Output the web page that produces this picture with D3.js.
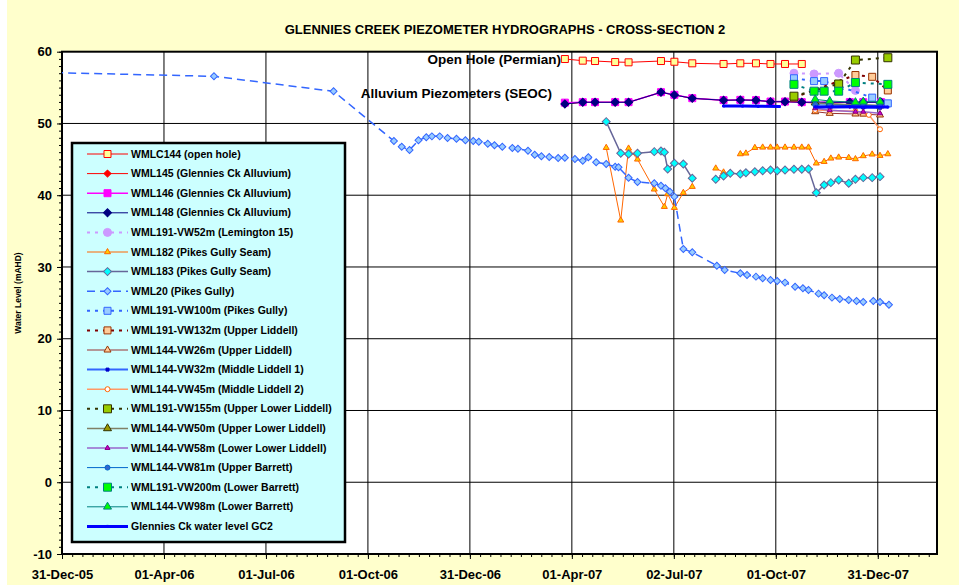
<!DOCTYPE html>
<html><head><meta charset="utf-8">
<script src="https://cdn.jsdelivr.net/npm/d3@7"></script>
<style>
html,body{margin:0;padding:0;background:#fff;}
svg{display:block;font-family:"Liberation Sans",Arial,sans-serif;}
</style></head>
<body>
<svg id="chart" width="959" height="585"></svg>
<script>
// ---------------- DATA ----------------
const xTickLabels = ["31-Dec-05","01-Apr-06","01-Jul-06","01-Oct-06","31-Dec-06","01-Apr-07","02-Jul-07","01-Oct-07","31-Dec-07"];
const yTicks = [-10,0,10,20,30,40,50,60];

const WMLC144 = [["2007-03-26",58.98],["2007-04-11",58.75],["2007-04-22",58.70],["2007-05-10",58.56],["2007-05-22",58.52],["2007-06-20",58.70],["2007-07-02",58.60],["2007-07-18",58.38],["2007-08-15",58.29],["2007-08-30",58.38],["2007-09-13",58.38],["2007-09-26",58.29],["2007-10-09",58.29],["2007-10-24",58.29]];
const WML145 = [["2007-03-26",52.71],["2007-04-11",52.95],["2007-04-22",52.95],["2007-05-10",52.95],["2007-05-22",52.95],["2007-06-20",54.34],["2007-07-02",53.97],["2007-07-18",53.50],["2007-08-15",53.23],["2007-08-30",53.27],["2007-09-13",53.23],["2007-09-26",53.03],["2007-10-09",53.03],["2007-10-24",52.95],["2007-12-06",52.6],["2007-12-18",52.5],["2008-01-03",52.5]];
const WML146 = [["2007-03-26",52.90],["2007-04-11",52.97],["2007-04-22",52.97],["2007-05-10",52.97],["2007-05-22",52.97],["2007-06-20",54.36],["2007-07-02",53.99],["2007-07-18",53.52],["2007-08-15",53.25],["2007-08-30",53.29],["2007-09-13",53.25],["2007-09-26",53.05],["2007-10-09",53.05],["2007-10-24",52.97],["2007-12-06",52.97],["2007-12-18",52.97],["2008-01-03",52.97]];
const WML148 = [["2007-03-26",52.71],["2007-04-11",52.95],["2007-04-22",52.95],["2007-05-10",52.95],["2007-05-22",52.95],["2007-06-20",54.34],["2007-07-02",53.97],["2007-07-18",53.50],["2007-08-15",53.23],["2007-08-30",53.27],["2007-09-13",53.23],["2007-09-26",53.03],["2007-10-09",53.03],["2007-10-24",52.95],["2007-12-06",52.95],["2007-12-18",52.95],["2008-01-03",52.95]];
const VW52m = [["2007-10-17",57.0],["2007-11-04",56.9],["2007-11-26",57.0],["2007-12-11",54.6]];
const WML182 = [["2007-05-02",46.62],["2007-05-15",36.5],["2007-05-22",46.53],["2007-05-30",45.0],["2007-06-14",40.82],["2007-06-23",38.4],["2007-06-26",40.17],["2007-07-02",38.26],["2007-07-10",40.35],["2007-07-18",41.19],["2007-07-28",null],["2007-08-08",43.75],["2007-08-15",43.2],["2007-08-22",null],["2007-08-30",45.74],["2007-09-04",45.84],["2007-09-12",46.62],["2007-09-19",46.67],["2007-09-26",46.67],["2007-10-02",46.67],["2007-10-09",46.67],["2007-10-17",46.67],["2007-10-24",46.67],["2007-10-30",46.67],["2007-11-06",44.45],["2007-11-13",44.67],["2007-11-19",45.14],["2007-11-26",45.28],["2007-12-05",45.23],["2007-12-11",45.05],["2007-12-18",45.47],["2007-12-26",45.70],["2008-01-02",45.51],["2008-01-09",45.74]];
const WML183 = [["2007-05-02",50.25],["2007-05-15",45.84],["2007-05-22",45.74],["2007-05-30",45.84],["2007-06-14",46.07],["2007-06-20",46.16],["2007-06-23",45.98],["2007-06-26",43.65],["2007-07-02",44.45],["2007-07-10",44.35],["2007-07-18",42.36],["2007-07-28",null],["2007-08-08",42.22],["2007-08-15",42.68],["2007-08-21",43.05],["2007-08-30",42.96],["2007-09-04",43.14],["2007-09-12",43.28],["2007-09-19",43.42],["2007-09-26",43.51],["2007-10-02",43.42],["2007-10-09",43.51],["2007-10-17",43.61],["2007-10-24",43.61],["2007-10-30",43.65],["2007-11-06",40.35],["2007-11-13",41.42],["2007-11-19",41.75],["2007-11-26",42.12],["2007-12-05",41.66],["2007-12-11",42.22],["2007-12-18",42.45],["2007-12-26",42.45],["2008-01-02",42.59]];
const WML20 = [["2005-11-20",57.2],["2006-05-16",56.57],["2006-08-31",54.48],["2006-10-24",47.56],["2006-10-31",46.76],["2006-11-07",46.3],["2006-11-15",47.65],["2006-11-22",48.07],["2006-11-27",48.2],["2006-12-04",48.2],["2006-12-11",47.97],["2006-12-19",47.88],["2006-12-27",47.65],["2007-01-03",47.56],["2007-01-08",47.46],["2007-01-16",47.18],["2007-01-22",46.96],["2007-01-29",46.76],["2007-02-07",46.58],["2007-02-12",46.48],["2007-02-21",46.2],["2007-02-27",45.65],["2007-03-05",45.42],["2007-03-12",45.33],["2007-03-20",45.19],["2007-03-26",45.23],["2007-04-04",45.05],["2007-04-11",44.8],["2007-04-16",45.3],["2007-04-23",44.59],["2007-05-02",44.35],["2007-05-10",43.97],["2007-05-13",43.9],["2007-05-22",42.44],["2007-05-30",41.84],["2007-06-14",41.66],["2007-06-20",41.33],["2007-06-24",40.96],["2007-06-28",40.49],["2007-07-02",39.8],["2007-07-10",32.5],["2007-07-18",32.05],["2007-08-09",30.18],["2007-08-16",29.58],["2007-08-30",29.12],["2007-09-05",28.88],["2007-09-13",28.65],["2007-09-19",28.42],["2007-09-26",28.19],["2007-10-02",28.05],["2007-10-09",27.82],["2007-10-18",27.25],["2007-10-25",27.03],["2007-10-30",26.8],["2007-11-08",26.28],["2007-11-13",26.05],["2007-11-20",25.73],["2007-11-27",25.54],["2007-12-05",25.40],["2007-12-12",25.26],["2007-12-18",25.12],["2007-12-27",25.26],["2008-01-02",25.12],["2008-01-10",24.74]];
const VW100m = [["2007-10-17",56.3],["2007-11-04",55.9],["2007-11-13",55.9],["2007-12-26",53.6],["2008-01-09",52.8]];
const VW132m = [["2007-10-17",53.6],["2007-12-11",56.75],["2007-12-26",56.5],["2008-01-09",54.6]];
const VW26m = [["2007-11-05",51.64],["2007-11-18",51.41],["2007-12-11",51.32],["2007-12-18",51.30],["2008-01-02",51.18]];
const VW32m = [["2007-11-05",52.30],["2007-11-18",52.28],["2007-12-11",52.25],["2007-12-18",52.22],["2008-01-02",52.20]];
const VW45m = [["2007-11-05",51.87],["2007-11-18",51.80],["2007-12-11",51.70],["2007-12-23",51.20],["2008-01-02",49.19]];
const VW155m = [["2007-10-17",53.8],["2007-11-26",55.5],["2007-12-11",58.84],["2008-01-09",59.16]];
const VW50m = [["2007-11-05",52.9],["2007-11-18",52.7],["2007-12-11",52.6],["2007-12-18",52.6],["2008-01-02",52.5]];
const VW58m = [["2007-11-05",52.11],["2007-11-18",51.85],["2007-12-11",51.64],["2007-12-18",51.64],["2008-01-02",51.41]];
const VW81m = [["2007-11-05",52.6],["2007-11-18",52.55],["2007-12-11",52.5],["2007-12-18",52.5],["2008-01-02",52.45]];
const VW200m = [["2007-10-17",55.45],["2007-11-04",54.5],["2007-11-13",54.5],["2007-11-26",54.5],["2007-12-11",55.7],["2008-01-09",55.45]];
const VW98m = [["2007-11-05",53.36],["2007-11-18",53.13],["2007-12-11",52.95],["2007-12-18",53.03],["2008-01-02",53.03]];
const GC2 = [["2007-08-15",52.43],["2007-09-01",52.42],["2007-09-15",52.40],["2007-10-04",52.36],["2007-10-20",null],["2007-11-05",52.30],["2007-11-20",52.30],["2007-12-06",52.32],["2007-12-20",52.30],["2008-01-09",52.28]];

// ---------------- SERIES STYLE TABLE ----------------
const DOT = "3,5";
const series = [
 {name:"WMLC144 (open hole)", data:WMLC144, color:"#FF0000", w:1, dash:null, shape:"square", size:7, fill:"#FFFF99", stroke:"#FF0000"},
 {name:"WML145 (Glennies Ck Alluvium)", data:WML145, color:"#FF0000", w:1, dash:null, shape:"diamond", size:7, fill:"#FF0000", stroke:"#FF0000"},
 {name:"WML146 (Glennies Ck Alluvium)", data:WML146, color:"#FF00FF", w:1.5, dash:null, shape:"square", size:7, fill:"#FF00FF", stroke:"#FF00FF"},
 {name:"WML148 (Glennies Ck Alluvium)", data:WML148, color:"#000080", w:1, dash:null, shape:"diamond", size:8, fill:"#000080", stroke:"#000080"},
 {name:"WML191-VW52m (Lemington 15)", data:VW52m, color:"#CC99FF", w:2, dash:DOT, shape:"circle", size:8, fill:"#CC99FF", stroke:"#CC99FF"},
 {name:"WML182 (Pikes Gully Seam)", data:WML182, color:"#FF6600", w:1, dash:null, shape:"triangle", size:6, fill:"#FFCC00", stroke:"#FF6600"},
 {name:"WML183 (Pikes Gully Seam)", data:WML183, color:"#666699", w:1.5, dash:null, shape:"diamond", size:8, fill:"#00FFFF", stroke:"#666699"},
 {name:"WML20 (Pikes Gully)", data:WML20, color:"#3366FF", w:1.5, dash:"8,5", shape:"diamond", size:7, fill:"#99CCFF", stroke:"#3366FF"},
 {name:"WML191-VW100m (Pikes Gully)", data:VW100m, color:"#3366FF", w:2, dash:DOT, shape:"square", size:7, fill:"#99CCFF", stroke:"#3366FF"},
 {name:"WML191-VW132m (Upper Liddell)", data:VW132m, color:"#800000", w:2, dash:DOT, shape:"square", size:7, fill:"#FFCC99", stroke:"#993300"},
 {name:"WML144-VW26m (Upper Liddell)", data:VW26m, color:"#993333", w:1, dash:null, shape:"triangle", size:7, fill:"#FFCC99", stroke:"#993300"},
 {name:"WML144-VW32m (Middle Liddell 1)", data:VW32m, color:"#3366FF", w:2, dash:null, shape:"square", size:3, fill:"#0000CC", stroke:"#0000CC"},
 {name:"WML144-VW45m (Middle Liddell 2)", data:VW45m, color:"#FF9966", w:1.5, dash:null, shape:"circle", size:5, fill:"#FFFFFF", stroke:"#FF6600"},
 {name:"WML191-VW155m (Upper Lower Liddell)", data:VW155m, color:"#333300", w:2, dash:DOT, shape:"square", size:8, fill:"#99CC00", stroke:"#333300"},
 {name:"WML144-VW50m (Upper Lower Liddell)", data:VW50m, color:"#808066", w:1.5, dash:null, shape:"triangle", size:8, fill:"#999900", stroke:"#333300"},
 {name:"WML144-VW58m (Lower Lower Liddell)", data:VW58m, color:"#9966CC", w:1.5, dash:null, shape:"triangle", size:5, fill:"#CC00CC", stroke:"#800080"},
 {name:"WML144-VW81m (Upper Barrett)", data:VW81m, color:"#0066CC", w:1, dash:null, shape:"circle", size:5, fill:"#3366CC", stroke:"#0066CC"},
 {name:"WML191-VW200m (Lower Barrett)", data:VW200m, color:"#008080", w:2, dash:DOT, shape:"square", size:8, fill:"#00FF00", stroke:"#008080"},
 {name:"WML144-VW98m (Lower Barrett)", data:VW98m, color:"#008080", w:1, dash:null, shape:"triangle", size:8, fill:"#00FF00", stroke:"#008080"},
 {name:"Glennies Ck water level GC2", data:GC2, color:"#0000FF", w:3, dash:null, shape:"square", size:2, fill:"#0000FF", stroke:"#0000FF"}
];

// ---------------- LAYOUT ----------------
const W = 959, H = 585;
const plot = {left:62, right:937, top:51.7, bottom:554};
const parse = d3.timeParse("%Y-%m-%d");
const xMin = parse("2005-12-31"), xMax = parse("2008-02-22");
const DAY = 864e5, MAJOR = 91.25;

const x = d3.scaleTime().domain([xMin, xMax]).range([plot.left, plot.right]);
const y = d3.scaleLinear().domain([-10, 60]).range([plot.bottom, plot.top]);

const svg = d3.select("#chart");
svg.append("rect").attr("x",7).attr("y",0).attr("width",W-7).attr("height",H).attr("fill","#FFFFCC");
svg.append("rect").attr("x",plot.left).attr("y",plot.top).attr("width",plot.right-plot.left).attr("height",plot.bottom-plot.top).attr("fill","#FFFFFF");

const defs = svg.append("defs");
defs.append("clipPath").attr("id","clip").append("rect")
  .attr("x",plot.left).attr("y",plot.top).attr("width",plot.right-plot.left).attr("height",plot.bottom-plot.top);

// tick dates
const majorDates = xTickLabels.map((l,i)=> new Date(xMin.getTime() + i*MAJOR*DAY));
const minorDates = d3.range(0, 86).map(i => new Date(xMin.getTime() + i*MAJOR/10*DAY)).filter(d=>d<=xMax);

// gridlines
const grid = svg.append("g").attr("stroke","#000").attr("stroke-width",1);
majorDates.slice(1).forEach(d=>{
  grid.append("line").attr("x1",x(d)).attr("x2",x(d)).attr("y1",plot.top).attr("y2",plot.bottom);
});
yTicks.filter(v=>v>-10 && v<60).forEach(v=>{
  grid.append("line").attr("x1",plot.left).attr("x2",plot.right).attr("y1",y(v)).attr("y2",y(v));
});

// axes
const yAxis = d3.axisLeft(y).tickValues(yTicks).tickSize(5).tickPadding(5).tickFormat(d=>String(d));
const gy = svg.append("g").attr("transform",`translate(${plot.left},0)`).call(yAxis);
const yMinor = d3.axisLeft(y).tickValues(d3.range(-10,61,1)).tickSize(3).tickFormat("");
svg.append("g").attr("transform",`translate(${plot.left},0)`).call(yMinor).select(".domain").remove();

const xAxis = d3.axisBottom(x).tickValues(majorDates).tickSize(5).tickPadding(11).tickFormat((d,i)=>xTickLabels[i]);
const gx = svg.append("g").attr("transform",`translate(0,${plot.bottom})`).call(xAxis);
const xMinor = d3.axisBottom(x).tickValues(minorDates).tickSize(3).tickFormat("");
svg.append("g").attr("transform",`translate(0,${plot.bottom})`).call(xMinor).select(".domain").remove();

svg.selectAll(".tick line").attr("stroke","#000");
svg.selectAll(".domain").remove();
gy.selectAll("text").attr("font-size",13).attr("font-weight","bold").attr("fill","#000").attr("font-family","Liberation Sans, Arial, sans-serif");
gx.selectAll("text").attr("font-size",13).attr("font-weight","bold").attr("fill","#000").attr("font-family","Liberation Sans, Arial, sans-serif");

// plot border
svg.append("rect").attr("x",plot.left).attr("y",plot.top).attr("width",plot.right-plot.left).attr("height",plot.bottom-plot.top)
  .attr("fill","none").attr("stroke","#000").attr("stroke-width",2);

// marker symbol helper
function markerPath(shape, size){
  let t, area;
  if(shape==="square"){ t=d3.symbolSquare; area=size*size; }
  else if(shape==="diamond"){ t=d3.symbolSquare; area=size*size/2; }
  else if(shape==="circle"){ t=d3.symbolCircle; area=Math.PI*size*size/4; }
  else { t=d3.symbolTriangle; area=Math.sqrt(3)/4*size*size; }
  return d3.symbol().type(t).size(area)();
}
function markerTransform(shape, cx, cy){
  return `translate(${cx},${cy})` + (shape==="diamond" ? " rotate(45)" : "");
}

// series
const plotG = svg.append("g").attr("clip-path","url(#clip)");
series.forEach(s=>{
  const pts = s.data.map(d=>({date:parse(d[0]), v:d[1]}));
  const line = d3.line().defined(d=>d.v!==null).x(d=>x(d.date)).y(d=>y(d.v));
  const g = plotG.append("g");
  g.append("path").datum(pts).attr("d",line).attr("fill","none")
   .attr("stroke",s.color).attr("stroke-width",s.w).attr("stroke-dasharray",s.dash);
  const mp = markerPath(s.shape, s.size);
  g.selectAll("path.m").data(pts.filter(d=>d.v!==null)).join("path").attr("class","m")
   .attr("d",mp).attr("transform",d=>markerTransform(s.shape, x(d.date), y(d.v)))
   .attr("fill",s.fill).attr("stroke",s.stroke).attr("stroke-width",1);
});

// title and labels
svg.append("text").attr("x",505).attr("y",34).attr("text-anchor","middle")
  .attr("font-size",13).attr("font-weight","bold").text("GLENNIES CREEK PIEZOMETER HYDROGRAPHS - CROSS-SECTION 2");
svg.append("text").attr("transform","translate(21,293) rotate(-90)").attr("text-anchor","middle")
  .attr("font-size",8.5).attr("font-weight","bold").text("Water Level (mAHD)");
svg.append("text").attr("x",561).attr("y",64).attr("text-anchor","end")
  .attr("font-size",13.5).attr("font-weight","bold").text("Open Hole (Permian)");
svg.append("text").attr("x",552).attr("y",98).attr("text-anchor","end")
  .attr("font-size",13.5).attr("font-weight","bold").text("Alluvium Piezometers (SEOC)");

// legend
const lg = svg.append("g");
lg.append("rect").attr("x",72).attr("y",143).attr("width",273).attr("height",399)
  .attr("fill","#CCFFFF").attr("stroke","#000").attr("stroke-width",2.5);
series.forEach((s,i)=>{
  const cy = 154 + i*19.6;
  lg.append("line").attr("x1",87).attr("x2",128).attr("y1",cy).attr("y2",cy)
    .attr("stroke",s.color).attr("stroke-width",s.w).attr("stroke-dasharray",s.dash);
  lg.append("path").attr("d",markerPath(s.shape,s.size)).attr("transform",markerTransform(s.shape,107.5,cy))
    .attr("fill",s.fill).attr("stroke",s.stroke).attr("stroke-width",1);
  lg.append("text").attr("x",131).attr("y",cy).attr("dy","0.35em")
    .attr("font-size",10.5).attr("font-weight","bold").attr("fill","#000").text(s.name);
});
</script>
</body></html>
